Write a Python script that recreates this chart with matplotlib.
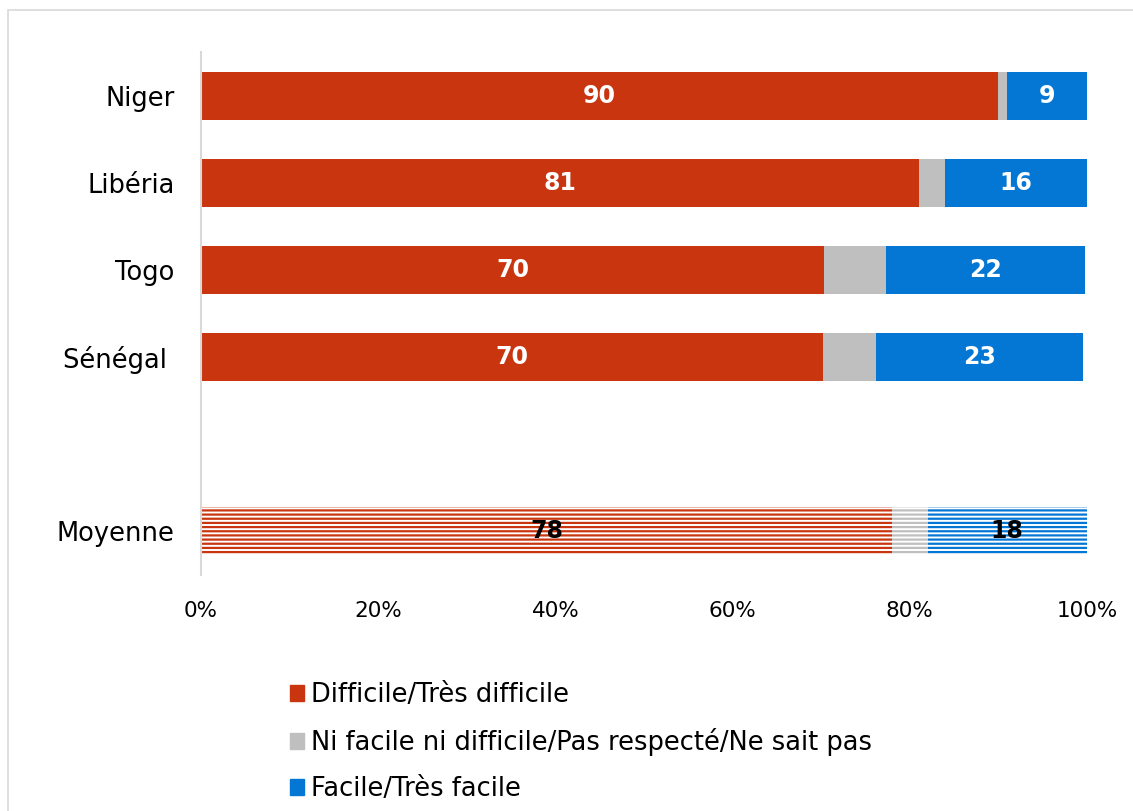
import matplotlib
matplotlib.use("Agg")
import matplotlib.pyplot as plt
from matplotlib.patches import Rectangle
import numpy as np

categories = ["Niger", "Libéria", "Togo", "Sénégal ", "Moyenne"]
positions = [0, 1, 2, 3, 5]
difficile = [90, 81, 70.3, 70.2, 78]
neutre = [1, 3, 7, 6, 4]
facile = [9, 16, 22.5, 23.3, 18]
labels_difficile = ["90", "81", "70", "70", "78"]
labels_facile = ["9", "16", "22", "23", "18"]
series_names = ["Difficile/Très difficile",
                "Ni facile ni difficile/Pas respecté/Ne sait pas",
                "Facile/Très facile"]
xticks = [0, 20, 40, 60, 80, 100]
xticklabels = ["0%", "20%", "40%", "60%", "80%", "100%"]

RED = "#C8350E"
GRAY = "#BFBFBF"
BLUE = "#0477D5"
colors = [RED, GRAY, BLUE]

plt.rcParams['font.family'] = ['DejaVu Sans']
plt.rcParams['hatch.linewidth'] = 1.6

fig = plt.figure(figsize=(11.33, 8.11), dpi=100)
ax = fig.add_axes([201/1133, 1-575/811, (1087-201)/1133, (575-52)/811])

h = 0.55
left = np.zeros(len(categories))
series = [difficile, neutre, facile]
containers = []
for vals, col, name in zip(series, colors, series_names):
    vals = np.array(vals, dtype=float)
    c = ax.barh(positions[:4], vals[:4], left=left[:4], height=h, color=col,
                edgecolor='none', label=name)
    m = ax.barh(positions[4:], vals[4:], left=left[4:], height=h,
                facecolor='white', edgecolor=col, hatch='----', linewidth=0)
    containers.append((c, m))
    left += vals

# labels
for idx, labs in [(0, labels_difficile), (2, labels_facile)]:
    c, m = containers[idx]
    ax.bar_label(c, labels=labs[:4], label_type='center', color='white',
                 fontsize=17, fontweight='bold')
    ax.bar_label(m, labels=labs[4:], label_type='center', color='black',
                 fontsize=17, fontweight='bold')

ax.set_xlim(0, 100)
ax.set_ylim(5.5, -0.5)
ax.set_yticks(positions)
ax.set_yticklabels(categories, fontsize=18.5)
ax.set_xticks(xticks)
ax.set_xticklabels(xticklabels, fontsize=15.5)
ax.tick_params(axis='y', length=0, pad=19)
ax.tick_params(axis='x', length=0, pad=19)
for s in ['top', 'right', 'bottom']:
    ax.spines[s].set_visible(False)
ax.spines['left'].set_color('#D9D9D9')
ax.spines['left'].set_linewidth(1.5)

handles = [Rectangle((0, 0), 1, 1, color=c) for c in colors]
fig.legend(handles, series_names, loc='upper left',
           bbox_to_anchor=(267/1133, 1-659/811), frameon=False,
           fontsize=18.5, handlelength=0.55, handleheight=0.55,
           handletextpad=0.28, labelspacing=0.78)

fig.patches.append(Rectangle((8/1133, -0.05), 1.2, 1 - 10/811 + 0.05,
                             transform=fig.transFigure, fill=False,
                             edgecolor='#D9D9D9', linewidth=1.2))

fig.savefig("out.png", dpi=100)
